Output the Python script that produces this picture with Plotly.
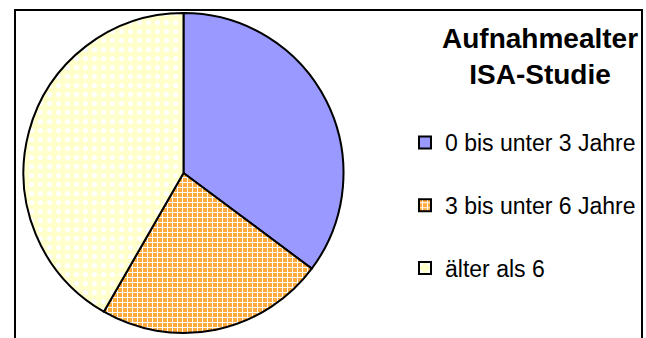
import plotly.graph_objects as go

labels = ["0 bis unter 3 Jahre", "3 bis unter 6 Jahre", "älter als 6"]
values = [35.2, 23.1, 41.7]
colors = ["#9999FF", "#FFB04A", "#FFFFCC"]
title_text = "Aufnahmealter<br>ISA-Studie"

W, H = 646, 338

# a blank second line only widens the gap between legend entries
legend_labels = [lab + "<br> " for lab in labels]

fig = go.Figure()
fig.add_trace(go.Pie(
    labels=legend_labels,
    values=values,
    sort=False,
    direction="clockwise",
    rotation=0,
    textinfo="none",
    hovertext=labels,
    hoverinfo="text+percent",
    marker=dict(
        colors=colors,
        line=dict(color="#000000", width=2),
        pattern=dict(
            shape=["", "+", "."],
            fgcolor=["#9999FF", "#FFFFFF", "#FFFFFF"],
            bgcolor=["#9999FF", "#FFAA3C", "#FFFFCC"],
            size=[6, 5, 9],
            solidity=[0.3, 0.35, 0.25],
            fillmode="replace",
        ),
    ),
    domain=dict(x=[21 / W, 346 / W], y=[1 - 333 / H, 1 - 13 / H]),
))

fig.update_layout(
    width=W, height=H,
    margin=dict(l=0, r=0, t=0, b=0),
    paper_bgcolor="white",
    plot_bgcolor="white",
    font=dict(family="Liberation Sans, Arial, sans-serif", color="#000000"),
    showlegend=True,
    legend=dict(
        x=405 / W, y=1 - 121 / H, xanchor="left", yanchor="top",
        font=dict(size=23, color="#000000"),
        itemwidth=30,
        valign="top",
        traceorder="normal",
    ),
    annotations=[dict(
        text="<b>" + title_text + "</b>", x=540 / W, y=1 - 57 / H,
        xref="paper", yref="paper", xanchor="center", yanchor="middle",
        showarrow=False, align="center",
        font=dict(size=28, color="#000000"),
    )],
    shapes=[dict(
        type="rect", xref="paper", yref="paper",
        x0=15 / W, x1=642 / W, y0=-0.05, y1=1 - 10 / H,
        line=dict(color="#000000", width=2),
        fillcolor="rgba(0,0,0,0)", layer="below",
    )],
)

fig.write_html("out.html")
